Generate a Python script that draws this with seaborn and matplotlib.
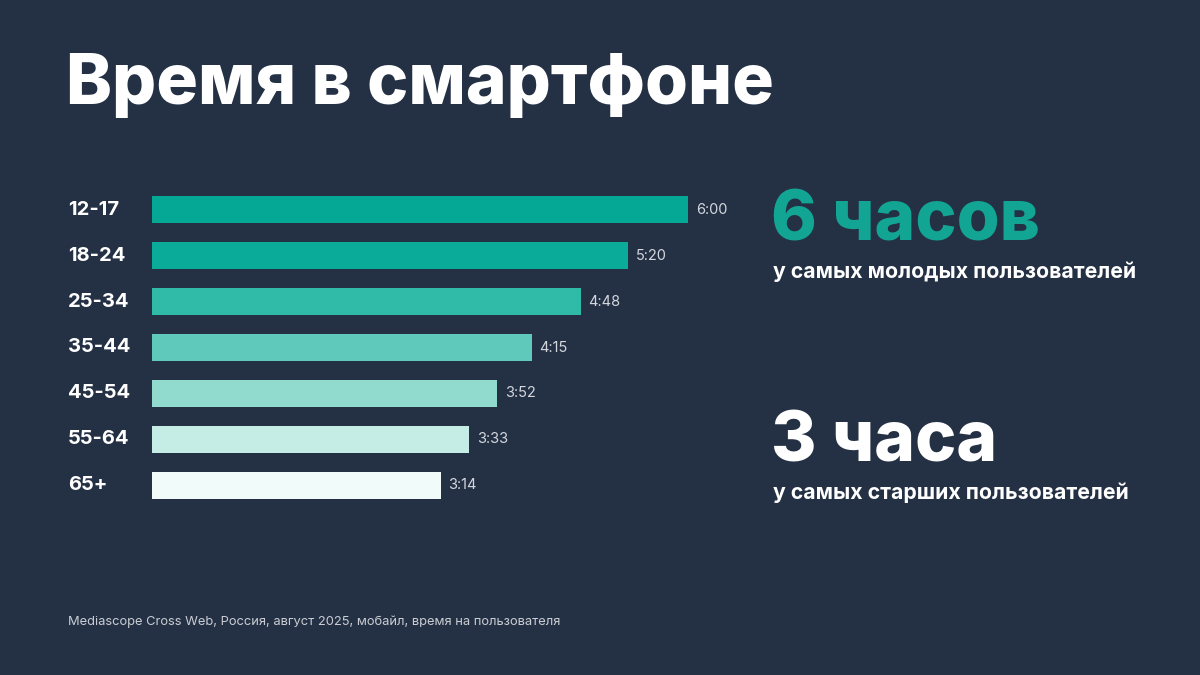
import matplotlib
matplotlib.use('Agg')
import matplotlib.pyplot as plt
import seaborn as sns
import pandas as pd

# данные
age_groups = ['12-17', '18-24', '25-34', '35-44', '45-54', '55-64', '65+']
minutes = [360, 320, 288, 255, 232, 213, 194]
time_labels = ['6:00', '5:20', '4:48', '4:15', '3:52', '3:33', '3:14']
bar_colors = ['#05a894', '#0aab98', '#30bba9', '#5fc9bb', '#90dbce', '#c5ece5', '#f1fbf9']

BG = '#243044'
TEAL = '#12a594'

sns.set_theme(style='white')
plt.rcParams['font.family'] = ['Inter', 'DejaVu Sans']

df = pd.DataFrame({'age': age_groups, 'minutes': minutes})

fig = plt.figure(figsize=(12, 6.75), dpi=100)
fig.patch.set_facecolor(BG)

ax = fig.add_axes([152 / 1200, 1 - 508 / 675, 536 / 1200, 321 / 675])
ax.set_facecolor(BG)
sns.barplot(data=df, x='minutes', y='age', hue='age', palette=bar_colors,
            legend=False, width=0.59, saturation=1, linewidth=0, ax=ax)
ax.set_xlim(0, 360)
ax.set_ylim(6.5, -0.5)
for s in ax.spines.values():
    s.set_visible(False)
ax.set_xticks([])
ax.set_yticks([])
ax.set_xlabel('')
ax.set_ylabel('')

# подписи категорий и значений
for i, (cat, val, lab) in enumerate(zip(age_groups, minutes, time_labels)):
    ax.annotate(cat, xy=(0, i), xycoords=('axes fraction', 'data'),
                xytext=(-60.5, 0), textcoords='offset points',
                ha='left', va='center', color='white', fontsize=14.5, fontweight='bold')
    ax.annotate(lab, xy=(val, i), xytext=(5.5, 0), textcoords='offset points',
                ha='left', va='center', color='#d4d8de', fontsize=10.5)

# заголовок
fig.text(66 / 1200, 1 - 86 / 675, 'Время в смартфоне', color='white',
         fontsize=50, fontweight='heavy', va='center', ha='left')

# правый блок
fig.text(771 / 1200, 1 - 222 / 675, '6 часов', color=TEAL,
         fontsize=50, fontweight='heavy', va='center', ha='left')
fig.text(773 / 1200, 1 - 272 / 675, 'у самых молодых пользователей', color='white',
         fontsize=15.3, fontweight='bold', va='center', ha='left')
fig.text(771 / 1200, 1 - 443 / 675, '3 часа', color='white',
         fontsize=50, fontweight='heavy', va='center', ha='left')
fig.text(773 / 1200, 1 - 493 / 675, 'у самых старших пользователей', color='white',
         fontsize=15.3, fontweight='bold', va='center', ha='left')

# источник
fig.text(68 / 1200, 1 - 622 / 675,
         'Mediascope Cross Web, Россия, август 2025, мобайл, время на пользователя',
         color='#c9cdd3', fontsize=9.3, va='center', ha='left')

fig.savefig('out.png', dpi=100, facecolor=BG)
